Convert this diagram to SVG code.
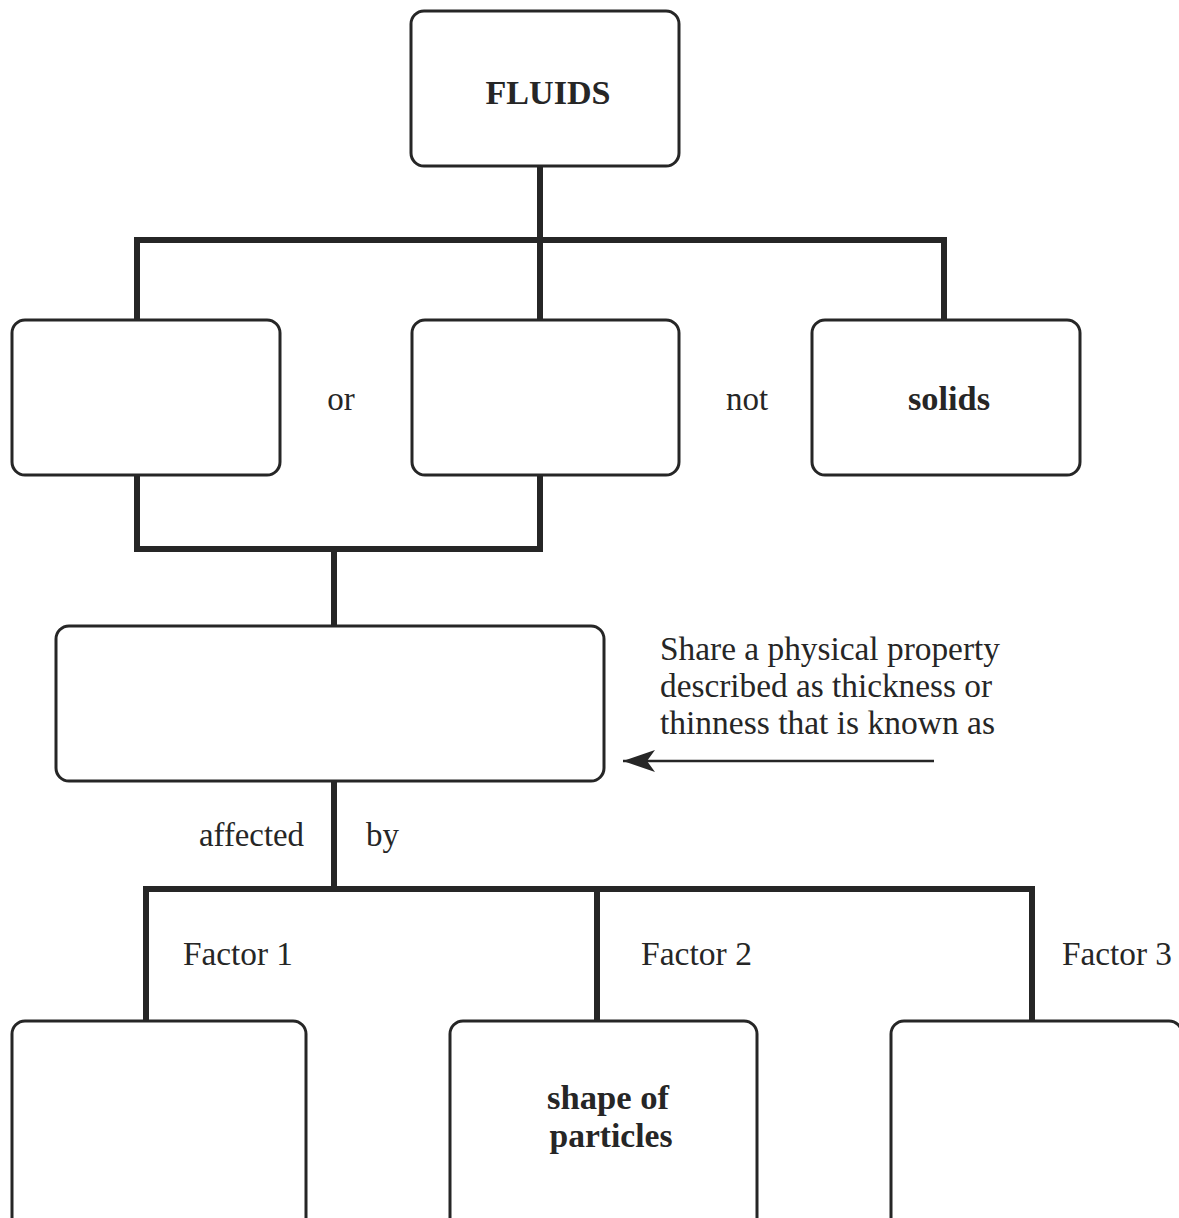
<svg xmlns="http://www.w3.org/2000/svg" width="1179" height="1218" viewBox="0 0 1179 1218">
<style>
.box{fill:#fff;stroke:#262626;stroke-width:3}
.conn{fill:none;stroke:#262626;stroke-width:6;stroke-linejoin:miter}
.t{font-family:"Liberation Serif","Times New Roman",serif;font-size:33px;fill:#262626}
.b{font-weight:bold;text-anchor:middle}
</style>
<defs>
<marker id="ah" markerWidth="34" markerHeight="24" refX="32" refY="12" orient="auto" markerUnits="userSpaceOnUse">
<path d="M32,12 L0,1 L8,12 L0,23 Z" fill="#262626"/>
</marker>
</defs>
<rect width="1179" height="1218" fill="#fff"/>
<g id="connectors">
<path class="conn" d="M540,166 V240 M137,320 V240 H944 V320 M540,240 V320"/>
<path class="conn" d="M137,475 V549 H540 V475 M334,549 V626"/>
<path class="conn" d="M334,781 V889 M146,1021 V889 H1032 V1021 M597,889 V1021"/>
<line x1="934" y1="761" x2="623" y2="761" stroke="#262626" stroke-width="2.5" marker-end="url(#ah)"/>
</g>
<g id="fluids"><rect class="box" x="411" y="11" width="268" height="155" rx="13"/><text class="t b" x="548" y="104" textLength="125" lengthAdjust="spacingAndGlyphs">FLUIDS</text></g>
<g id="box-left"><rect class="box" x="12" y="320" width="268" height="155" rx="13"/></g>
<g id="box-mid"><rect class="box" x="412" y="320" width="267" height="155" rx="13"/></g>
<g id="solids"><rect class="box" x="812" y="320" width="268" height="155" rx="13"/><text class="t b" x="949" y="410" textLength="82" lengthAdjust="spacingAndGlyphs">solids</text></g>
<g id="box-property"><rect class="box" x="56" y="626" width="548" height="155" rx="13"/></g>
<g id="factor1-box"><rect class="box" x="12" y="1021" width="294" height="220" rx="13"/></g>
<g id="factor2-box"><rect class="box" x="450" y="1021" width="307" height="220" rx="13"/><text class="t b" x="608" y="1109" textLength="122" lengthAdjust="spacingAndGlyphs">shape of</text><text class="t b" x="611" y="1147" textLength="123" lengthAdjust="spacingAndGlyphs">particles</text></g>
<g id="factor3-box"><rect class="box" x="891" y="1021" width="291" height="220" rx="13"/></g>
<g id="labels">
<text class="t" x="341" y="410" text-anchor="middle">or</text>
<text class="t" x="747" y="410" text-anchor="middle">not</text>
<text class="t" x="660" y="660" textLength="340" lengthAdjust="spacingAndGlyphs">Share a physical property</text>
<text class="t" x="660" y="697" textLength="332" lengthAdjust="spacingAndGlyphs">described as thickness or</text>
<text class="t" x="660" y="734" textLength="335" lengthAdjust="spacingAndGlyphs">thinness that is known as</text>
<text class="t" x="199" y="846" textLength="105" lengthAdjust="spacingAndGlyphs">affected</text>
<text class="t" x="366" y="846">by</text>
<text class="t" x="183" y="965" textLength="110" lengthAdjust="spacingAndGlyphs">Factor 1</text>
<text class="t" x="641" y="965" textLength="111" lengthAdjust="spacingAndGlyphs">Factor 2</text>
<text class="t" x="1062" y="965" textLength="110" lengthAdjust="spacingAndGlyphs">Factor 3</text>
</g>
</svg>
